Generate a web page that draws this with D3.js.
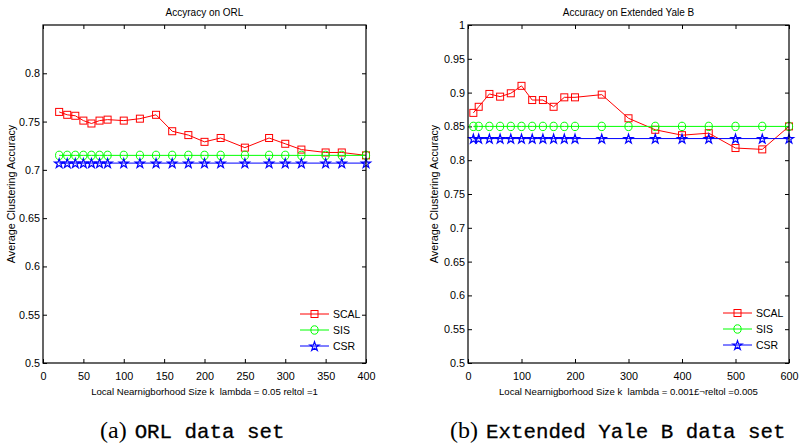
<!DOCTYPE html>
<html>
<head>
<script src="https://d3js.org/d3.v7.min.js"></script>
<style>
    body { margin: 0; background: #fff; }
    svg text { font-family: "Liberation Sans", Arial, sans-serif; }
</style>
</head>
<body>
<svg id="chart" width="799" height="446"></svg>
<script>
// ORL data set
var orlK = [20, 30, 40, 50, 60, 70, 80, 100, 120, 140, 160, 180, 200, 220, 250, 280, 300, 320, 350, 370, 400];
var orlSCAL = [0.760, 0.757, 0.756, 0.751, 0.748, 0.751, 0.752, 0.751, 0.753, 0.757, 0.740, 0.736, 0.729, 0.733, 0.723, 0.733, 0.727, 0.721, 0.718, 0.718, 0.715];
var orlSIS = [0.715, 0.715, 0.715, 0.715, 0.715, 0.715, 0.715, 0.715, 0.715, 0.715, 0.715, 0.715, 0.715, 0.715, 0.715, 0.715, 0.715, 0.715, 0.715, 0.715, 0.715];
var orlCSR = [0.707, 0.707, 0.707, 0.707, 0.707, 0.707, 0.707, 0.707, 0.707, 0.707, 0.707, 0.707, 0.707, 0.707, 0.707, 0.707, 0.707, 0.707, 0.707, 0.707, 0.707];
var orlXTicks = [0, 50, 100, 150, 200, 250, 300, 350, 400];
var orlYTicks = [0.5, 0.55, 0.6, 0.65, 0.7, 0.75, 0.8];

// Extended Yale B data set
var yaleK = [10, 20, 40, 60, 80, 100, 120, 140, 160, 180, 200, 250, 300, 350, 400, 450, 500, 550, 600];
var yaleSCAL = [0.870, 0.879, 0.898, 0.894, 0.899, 0.910, 0.889, 0.889, 0.879, 0.893, 0.893, 0.897, 0.862, 0.845, 0.837, 0.840, 0.818, 0.816, 0.850];
var yaleSIS = [0.850, 0.850, 0.850, 0.850, 0.850, 0.850, 0.850, 0.850, 0.850, 0.850, 0.850, 0.850, 0.850, 0.850, 0.850, 0.850, 0.850, 0.850, 0.850];
var yaleCSR = [0.832, 0.832, 0.832, 0.832, 0.832, 0.832, 0.832, 0.832, 0.832, 0.832, 0.832, 0.832, 0.832, 0.832, 0.832, 0.832, 0.832, 0.832, 0.832];
var yaleXTicks = [0, 100, 200, 300, 400, 500, 600];
var yaleYTicks = [0.5, 0.55, 0.6, 0.65, 0.7, 0.75, 0.8, 0.85, 0.9, 0.95, 1];

var seriesNames = ["SCAL", "SIS", "CSR"];
var seriesColors = ["#ff0000", "#00ff00", "#0000ff"];

var svg = d3.select("#chart");

function drawMarker(g, type, x, y, color) {
    if (type === "SCAL") {
        g.append("rect").attr("x", x - 3.5).attr("y", y - 3.5).attr("width", 7).attr("height", 7)
            .attr("fill", "none").attr("stroke", color).attr("stroke-width", 1);
    } else if (type === "SIS") {
        g.append("ellipse").attr("cx", x).attr("cy", y).attr("rx", 3.6).attr("ry", 4.2)
            .attr("fill", "none").attr("stroke", color).attr("stroke-width", 1);
    } else {
        g.append("path").attr("d", d3.symbol().type(d3.symbolStar).size(26)())
            .attr("transform", "translate(" + x + "," + (y + 0.5) + ")")
            .attr("fill", "none").attr("stroke", color).attr("stroke-width", 1.2);
    }
}

function drawPanel(opt) {
    var x = d3.scaleLinear().domain(opt.xDomain).range([opt.left, opt.right]);
    var y = d3.scaleLinear().domain(opt.yDomain).range([opt.bottom, opt.top]);
    var g = svg.append("g");

    // ticks inside the box, MATLAB style
    g.append("g").attr("transform", "translate(0," + opt.bottom + ")")
        .call(d3.axisBottom(x).tickValues(opt.xTicks).tickSizeInner(-4).tickSizeOuter(0).tickPadding(9));
    g.append("g").attr("transform", "translate(0," + opt.top + ")")
        .call(d3.axisTop(x).tickValues(opt.xTicks).tickSizeInner(-4).tickSizeOuter(0).tickFormat(""));
    g.append("g").attr("transform", "translate(" + opt.left + ",0)")
        .call(d3.axisLeft(y).tickValues(opt.yTicks).tickSizeInner(-4).tickSizeOuter(0).tickPadding(3).tickFormat(d3.format("")));
    g.append("g").attr("transform", "translate(" + opt.right + ",0)")
        .call(d3.axisRight(y).tickValues(opt.yTicks).tickSizeInner(-4).tickSizeOuter(0).tickFormat(""));
    g.selectAll(".domain").remove();
    g.selectAll(".tick line").attr("stroke", "#000");
    g.selectAll(".tick text").attr("font-size", 10.8).attr("fill", "#000");

    // data lines
    opt.series.forEach(function (vals, i) {
        var pts = opt.k.map(function (k, j) { return [x(k), y(vals[j])]; });
        g.append("path").attr("d", d3.line()(pts))
            .attr("fill", "none").attr("stroke", seriesColors[i]).attr("stroke-width", 1);
        pts.forEach(function (p) { drawMarker(g, seriesNames[i], p[0], p[1], seriesColors[i]); });
    });

    // box
    g.append("rect").attr("x", opt.left).attr("y", opt.top)
        .attr("width", opt.right - opt.left).attr("height", opt.bottom - opt.top)
        .attr("fill", "none").attr("stroke", "#000").attr("stroke-width", 1.2);

    // legend
    seriesNames.forEach(function (name, i) {
        var ly = opt.legendY + i * 16;
        g.append("line").attr("x1", opt.legendX).attr("x2", opt.legendX + 29)
            .attr("y1", ly).attr("y2", ly).attr("stroke", seriesColors[i]).attr("stroke-width", 1);
        drawMarker(g, name, opt.legendX + 14.5, ly, seriesColors[i]);
        g.append("text").attr("x", opt.legendX + 33).attr("y", ly + 4)
            .attr("font-size", 10.5).text(name);
    });

    var cx = (opt.left + opt.right) / 2;
    g.append("text").attr("x", cx).attr("y", 16).attr("text-anchor", "middle")
        .attr("font-size", 10).text(opt.title);
    g.append("text").attr("x", cx).attr("y", 395).attr("text-anchor", "middle")
        .attr("font-size", 9.6).text(opt.xLabel);
    g.append("text").attr("transform", "translate(" + opt.yLabelX + "," + ((opt.top + opt.bottom) / 2) + ") rotate(-90)")
        .attr("text-anchor", "middle").attr("font-size", 10.8).text("Average Clustering Accuracy");

    var cap = g.append("text").attr("x", opt.capX).attr("y", 438);
    cap.append("tspan").attr("font-family", "'Liberation Serif', 'DejaVu Serif', serif")
        .attr("font-size", 24).text(opt.capTag);
    cap.append("tspan").attr("dx", 8).attr("font-size", 20.8)
        .attr("font-family", "'Liberation Mono', 'DejaVu Sans Mono', monospace")
        .attr("stroke", "#000").attr("stroke-width", 0.3).text(opt.capText);
}

drawPanel({
    left: 43, right: 366, top: 25, bottom: 363,
    xDomain: [0, 400], yDomain: [0.5, 0.85],
    xTicks: orlXTicks, yTicks: orlYTicks,
    k: orlK, series: [orlSCAL, orlSIS, orlCSR],
    legendX: 300, legendY: 314,
    title: "Accyracy on ORL",
    xLabel: "Local Nearnigborhood Size k\u00a0\u00a0lambda = 0.05 reltol =1",
    yLabelX: 15,
    capX: 100, capTag: "(a)", capText: "ORL data set"
});

drawPanel({
    left: 468, right: 789, top: 25, bottom: 363,
    xDomain: [0, 600], yDomain: [0.5, 1],
    xTicks: yaleXTicks, yTicks: yaleYTicks,
    k: yaleK, series: [yaleSCAL, yaleSIS, yaleCSR],
    legendX: 723, legendY: 313,
    title: "Accuracy on Extended Yale B",
    xLabel: "Local Nearnigborhood Size k\u00a0\u00a0lambda = 0.001\u00a3\u00acreltol =0.005",
    yLabelX: 438,
    capX: 450, capTag: "(b)", capText: "Extended Yale B data set"
});
</script>
</body>
</html>
